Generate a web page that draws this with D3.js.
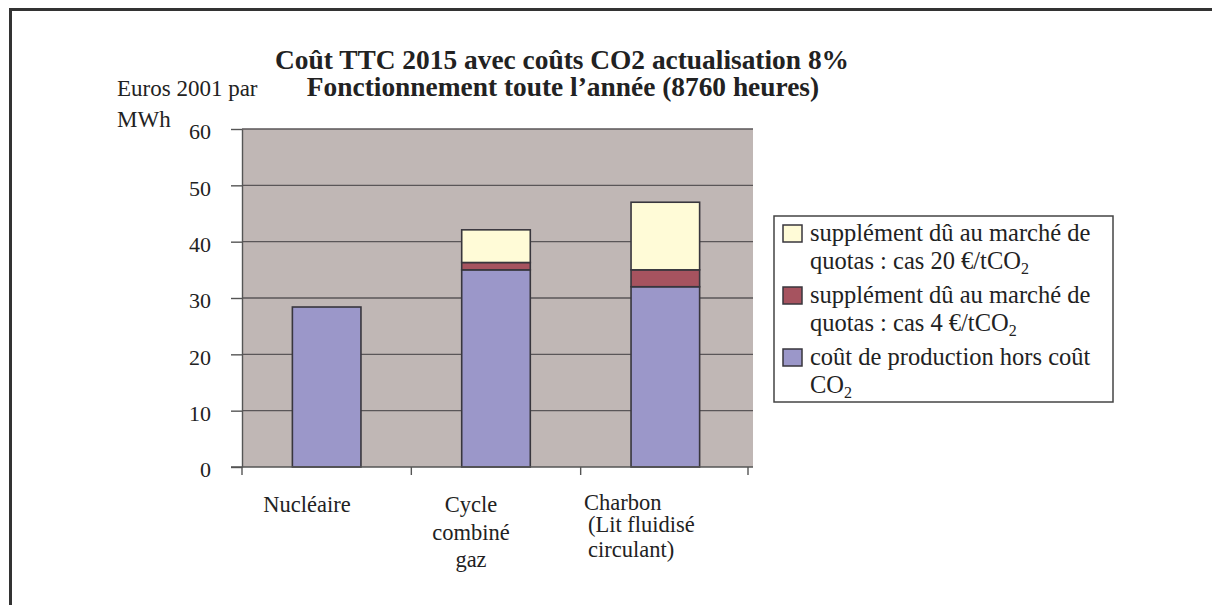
<!DOCTYPE html>
<html>
<head>
<meta charset="utf-8">
<script src="https://cdn.jsdelivr.net/npm/d3@7"></script>
<style>
  body { margin: 0; background: #fff; }
  svg { display: block; font-family: "Liberation Serif", "Times New Roman", serif; }
</style>
</head>
<body>
<div id="chart"></div>
<script>
// data
const categories = ["Nucléaire", "Cycle combiné gaz", "Charbon (Lit fluidisé circulant)"];
const categoryLines = [["Nucléaire"], ["Cycle", "combiné", "gaz"], ["Charbon", "(Lit fluidisé", "circulant)"]];
const baseCost = [28.4, 35, 32];      // coût de production hors coût CO2
const quota4 = [0, 1.3, 3];          // supplément cas 4 €/tCO2
const quota20 = [0, 5.8, 12];        // supplément cas 20 €/tCO2
const yTicks = [0, 10, 20, 30, 40, 50, 60];

const seriesKeys = ["base", "q4", "q20"];
const colors = { base: "#9b97c9", q4: "#a6535f", q20: "#fffbd7" };

const rows = categories.map((c, i) => ({ cat: c, base: baseCost[i], q4: quota4[i], q20: quota20[i] }));

const W = 1212, H = 605;
const plotL = 242, plotR = 750, plotT = 129, plotB = 467;

const svg = d3.select("#chart").append("svg")
  .attr("width", W).attr("height", H);

// outer frame (only top and left edges visible)
svg.append("path")
  .attr("d", `M10.5,${H} V9.5 H${W}`)
  .attr("fill", "none")
  .attr("stroke", "#333")
  .attr("stroke-width", 3);

const x = d3.scaleBand().domain(categories).range([plotL, plotR]).paddingInner(0.595).paddingOuter(0.2975);
const y = d3.scaleLinear().domain([0, 60]).range([plotB, plotT]);

// plot area
svg.append("rect")
  .attr("x", plotL).attr("y", plotT)
  .attr("width", plotR - plotL + 3).attr("height", plotB - plotT)
  .attr("fill", "#c0b7b5");

// gridlines
svg.append("g")
  .selectAll("line")
  .data(yTicks.slice(1))
  .join("line")
  .attr("x1", plotL).attr("x2", plotR + 3)
  .attr("y1", d => y(d)).attr("y2", d => y(d))
  .attr("stroke", "#5a5658")
  .attr("stroke-width", 1.4);

// y axis
const yAxis = svg.append("g")
  .attr("transform", `translate(${plotL},0)`)
  .call(d3.axisLeft(y).tickValues(yTicks).tickSize(11).tickPadding(20).tickSizeOuter(0));
yAxis.select(".domain").attr("stroke", "#555").attr("stroke-width", 1.4);
yAxis.selectAll(".tick line").attr("stroke", "#555").attr("stroke-width", 1.4);
yAxis.selectAll(".tick text")
  .attr("fill", "#222")
  .attr("dy", "0.45em")
  .style("font-size", "22px")
  .style("font-family", "Liberation Serif, serif");

// stacked bars
const stacked = d3.stack().keys(seriesKeys)(rows);
svg.append("g")
  .selectAll("g")
  .data(stacked)
  .join("g")
  .attr("fill", d => colors[d.key])
  .selectAll("rect")
  .data(d => d.filter(s => s[1] - s[0] > 0))
  .join("rect")
  .attr("x", d => x(d.data.cat))
  .attr("y", d => y(d[1]))
  .attr("width", x.bandwidth())
  .attr("height", d => y(d[0]) - y(d[1]))
  .attr("stroke", "#38363d")
  .attr("stroke-width", 1.6);

// x axis line and boundary ticks
const edges = categories.map(c => x(c) - x.step() * x.paddingInner() / 2).concat([plotR - 2]);
svg.append("line")
  .attr("x1", plotL - 11).attr("x2", plotR + 3)
  .attr("y1", plotB).attr("y2", plotB)
  .attr("stroke", "#555").attr("stroke-width", 1.4);
svg.append("g")
  .selectAll("line")
  .data(edges)
  .join("line")
  .attr("x1", d => d).attr("x2", d => d)
  .attr("y1", plotB).attr("y2", plotB + 8)
  .attr("stroke", "#555").attr("stroke-width", 1.4);

// category labels
const labelX = [307, 471, 585];
const labelAnchor = ["middle", "middle", "start"];
const lineY = [[512], [512, 540, 567], [510, 532, 557]];
const lineDx = [[0], [0, 0, 0], [-1, 3, 3]];
categoryLines.forEach((lines, i) => {
  lines.forEach((t, j) => {
    svg.append("text")
      .attr("x", labelX[i] + lineDx[i][j])
      .attr("y", lineY[i][j])
      .attr("text-anchor", labelAnchor[i])
      .attr("fill", "#222")
      .style("font-size", "22.5px")
      .text(t);
  });
});

// titles
svg.append("text")
  .attr("x", 562).attr("y", 69)
  .attr("text-anchor", "middle")
  .attr("fill", "#222")
  .style("font-size", "27.4px").style("font-weight", "bold")
  .text("Coût TTC 2015 avec coûts CO2 actualisation 8%");
svg.append("text")
  .attr("x", 563).attr("y", 96)
  .attr("text-anchor", "middle")
  .attr("fill", "#222")
  .style("font-size", "27.4px").style("font-weight", "bold")
  .text("Fonctionnement toute l’année (8760 heures)");

// y axis title
svg.append("text")
  .attr("x", 117).attr("y", 96)
  .attr("fill", "#222")
  .style("font-size", "23px")
  .text("Euros 2001 par");
svg.append("text")
  .attr("x", 117).attr("y", 127)
  .attr("fill", "#222")
  .style("font-size", "23px")
  .text("MWh");

// legend
const legendItems = [
  { key: "q20", lines: ["supplément dû au marché de", "quotas : cas 20 €/tCO"], sub: true },
  { key: "q4", lines: ["supplément dû au marché de", "quotas : cas 4 €/tCO"], sub: true },
  { key: "base", lines: ["coût de production hors coût", "CO"], sub: true }
];
const lgX = 774, lgY = 216, lgW = 339, lgH = 186;
svg.append("rect")
  .attr("x", lgX).attr("y", lgY)
  .attr("width", lgW).attr("height", lgH)
  .attr("fill", "#fff")
  .attr("stroke", "#444").attr("stroke-width", 1.5);

const lg = svg.append("g");
legendItems.forEach((it, i) => {
  const base = 241 + i * 62;
  lg.append("rect")
    .attr("x", 783).attr("y", base - 16)
    .attr("width", 19).attr("height", 17)
    .attr("fill", colors[it.key])
    .attr("stroke", "#38363d").attr("stroke-width", 1.5);
  it.lines.forEach((t, j) => {
    const txt = lg.append("text")
      .attr("x", 810).attr("y", base + j * 28)
      .attr("fill", "#222")
      .style("font-size", "24.5px")
      .text(t);
    if (j === 1 && it.sub) {
      txt.append("tspan")
        .attr("dy", 5)
        .style("font-size", "16px")
        .text("2");
    }
  });
});
</script>
</body>
</html>
